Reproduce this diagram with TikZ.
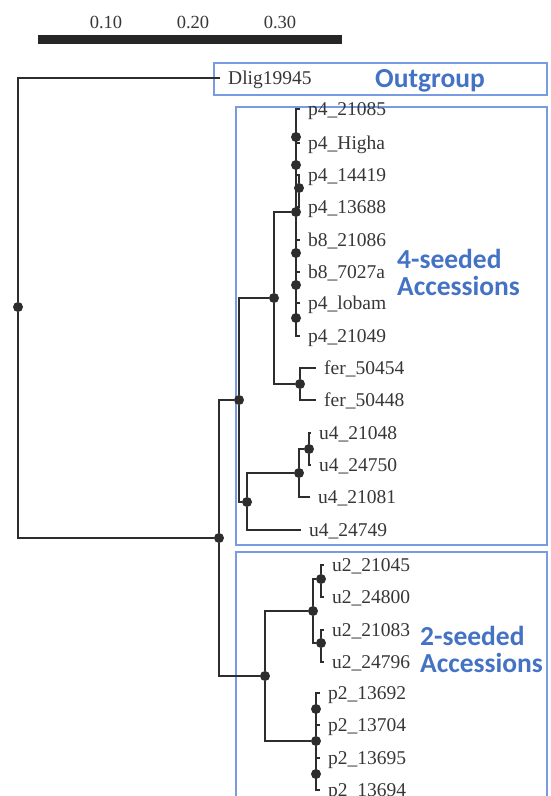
\documentclass[tikz,border=0pt]{standalone}
\usepackage{fontspec}
\newfontfamily\leaffam{Liberation Serif}
\newfontfamily\bigfam{Carlito}
\definecolor{treecol}{RGB}{45,45,45}
\definecolor{labcol}{RGB}{55,55,55}
\definecolor{boxcol}{RGB}{120,155,225}
\definecolor{bluecol}{RGB}{68,114,196}
\tikzset{
  br/.style={line width=1.8pt, draw=treecol},
  dot/.style={circle, fill=treecol, inner sep=0pt, minimum size=10pt},
  leaf/.style={anchor=west, font={\leaffam\fontsize{19.5}{22}\selectfont}, inner xsep=8pt, inner ysep=0pt, text height=13pt, text depth=0pt, text=labcol},
  scalelab/.style={font={\leaffam\fontsize{18.5}{22}\selectfont}, inner sep=0pt, text height=13pt, text depth=0pt, text=labcol},
  grp/.style={draw=boxcol, line width=1.3pt},
  big/.style={font={\bigfam\bfseries\fontsize{27.5}{30}\selectfont}, text=bluecol, inner sep=0pt, text height=18pt, text depth=0pt}
}
\begin{document}
\begin{tikzpicture}[x=1pt,y=-1pt]
\clip (0,0) rectangle (551,796);
\fill[white] (0,0) rectangle (551,796);

% scale bar
\coordinate (sbL) at (38,39);
\coordinate (sbR) at (342,39);
\draw[line width=9pt, draw=black!85] (sbL) -- (sbR);
\node[scalelab] (s1) at (106,22) {0.10};
\node[scalelab] (s2) at (193,22) {0.20};
\node[scalelab] (s3) at (280,22) {0.30};

% group boxes
\draw[grp] (214,63) rectangle (547,95);
\draw[grp] (236,107) rectangle (547,545);
\draw[grp] (236,552) rectangle (547,820);

% group labels
\node[big] (outg) at (430,78) {Outgroup};
\node[big, anchor=west] (g4a) at (397,259) {4-seeded};
\node[big, anchor=west] (g4b) at (397,286) {Accessions};
\node[big, anchor=west] (g2a) at (420,636) {2-seeded};
\node[big, anchor=west] (g2b) at (420,663) {Accessions};

% leaves
\node[leaf] (dlig) at (220,78) {Dlig19945};
\node[leaf] (pA) at (300,109) {p4\_21085};
\node[leaf] (pB) at (300,143) {p4\_Higha};
\node[leaf] (pC) at (300,175) {p4\_14419};
\node[leaf] (pD) at (300,207) {p4\_13688};
\node[leaf] (pE) at (300,240) {b8\_21086};
\node[leaf] (pF) at (300,272) {b8\_7027a};
\node[leaf] (pG) at (300,303) {p4\_lobam};
\node[leaf] (pH) at (300,336) {p4\_21049};
\node[leaf] (fA) at (316,368) {fer\_50454};
\node[leaf] (fB) at (316,400) {fer\_50448};
\node[leaf] (uA) at (311,433) {u4\_21048};
\node[leaf] (uB) at (311,465) {u4\_24750};
\node[leaf] (uC) at (310,497) {u4\_21081};
\node[leaf] (uD) at (301,530) {u4\_24749};
\node[leaf] (vA) at (324,565) {u2\_21045};
\node[leaf] (vB) at (324,597) {u2\_24800};
\node[leaf] (vC) at (324,630) {u2\_21083};
\node[leaf] (vD) at (324,662) {u2\_24796};
\node[leaf] (qA) at (320,693) {p2\_13692};
\node[leaf] (qB) at (320,725) {p2\_13704};
\node[leaf] (qC) at (320,758) {p2\_13695};
\node[leaf] (qD) at (320,790) {p2\_13694};

% internal nodes
\node[dot] (root) at (18,307) {};
\node[dot] (n2) at (219,538) {};
\node[dot] (n3) at (239,400) {};
\node[dot] (n4) at (265,676) {};
\node[dot] (n5) at (274,298) {};
\node[dot] (n6) at (247,502) {};
\node[dot] (p4r) at (296,212) {};
\node[dot] (fer) at (300,384) {};
\node[dot] (n7) at (299,473) {};
\node[dot] (n8) at (309,449) {};
\node[dot] (n9) at (313,611) {};
\node[dot] (n10) at (316,741) {};
\node[dot] (n11) at (321,579) {};
\node[dot] (n12) at (321,643) {};
\node[dot] (pa) at (296,137) {};
\node[dot] (pb) at (296,165) {};
\node[dot] (pc) at (299,188) {};
\node[dot] (pd) at (296,253) {};
\node[dot] (pe) at (296,285) {};
\node[dot] (pf) at (296,318) {};
\node[dot] (qa) at (316,709) {};
\node[dot] (qb) at (316,774) {};

% branches
\draw[br] (root) |- (dlig.west);
\draw[br] (root) |- (n2);
\draw[br] (n2) |- (n3);
\draw[br] (n2) |- (n4);
\draw[br] (n3) |- (n5);
\draw[br] (n3) |- (n6);
\draw[br] (n5) |- (p4r);
\draw[br] (n5) |- (fer);
\draw[br] (fer) |- (fA.west);
\draw[br] (fer) |- (fB.west);
\foreach \l in {pA,pB,pE,pF,pG,pH} {\draw[br] (p4r) |- (\l.west);}
\draw[br] (p4r) |- (pC.west);
\draw[br] (p4r) |- (pD.west);
\draw[br] (pc) |- (pC.west);
\draw[br] (pc) |- (pD.west);
\draw[br] (n6) |- (n7);
\draw[br] (n6) |- (uD.west);
\draw[br] (n7) |- (n8);
\draw[br] (n7) |- (uC.west);
\draw[br] (n8) |- (uA.west);
\draw[br] (n8) |- (uB.west);
\draw[br] (n4) |- (n9);
\draw[br] (n4) |- (n10);
\draw[br] (n9) |- (n11);
\draw[br] (n9) |- (n12);
\draw[br] (n11) |- (vA.west);
\draw[br] (n11) |- (vB.west);
\draw[br] (n12) |- (vC.west);
\draw[br] (n12) |- (vD.west);
\foreach \l in {qA,qB,qC,qD} {\draw[br] (n10) |- (\l.west);}
\end{tikzpicture}
\end{document}
